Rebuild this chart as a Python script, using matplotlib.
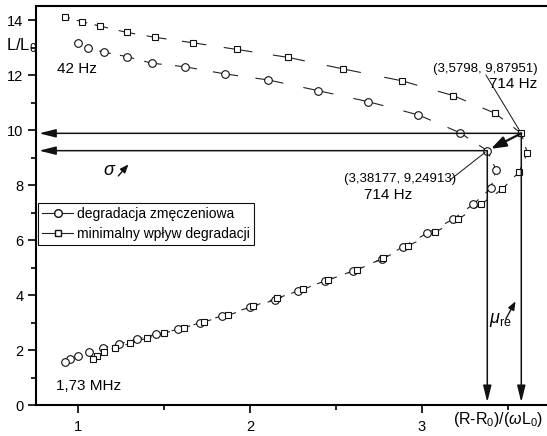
import numpy as np
import matplotlib.pyplot as plt
from matplotlib.lines import Line2D
from matplotlib.collections import LineCollection

plt.rcParams['font.family'] = ['Liberation Sans', 'DejaVu Sans']
plt.rcParams['mathtext.fontset'] = 'custom'
plt.rcParams['mathtext.rm'] = 'Liberation Sans'
plt.rcParams['mathtext.it'] = 'Liberation Sans:italic'

# degradacja zmeczeniowa (circles), 42 Hz -> 714 Hz -> 1.73 MHz
circ_x = [1.000, 1.055, 1.150, 1.282, 1.427, 1.621, 1.854, 2.107, 2.398, 2.689, 2.980, 3.223, 3.38177,
          3.433, 3.402, 3.300, 3.181, 3.029, 2.893, 2.767, 2.602, 2.437, 2.281, 2.146, 2.000,
          1.835, 1.709, 1.582, 1.453, 1.340, 1.239, 1.146, 1.064, 1.000, 0.952, 0.923]
circ_y = [13.15, 12.99, 12.83, 12.67, 12.43, 12.30, 12.04, 11.82, 11.43, 11.03, 10.55, 9.90, 9.24913,
          8.55, 7.88, 7.30, 6.75, 6.24, 5.76, 5.31, 4.88, 4.51, 4.16, 3.82, 3.55,
          3.24, 2.99, 2.75, 2.58, 2.39, 2.23, 2.08, 1.92, 1.79, 1.68, 1.57]

# minimalny wplyw degradacji (squares)
sq_x = [0.922, 1.020, 1.126, 1.282, 1.447, 1.670, 1.923, 2.223, 2.543, 2.884, 3.184, 3.427, 3.5798,
        3.615, 3.568, 3.469, 3.345, 3.213, 3.078, 2.922, 2.776, 2.621, 2.456, 2.310, 2.156,
        2.019, 1.874, 1.732, 1.617, 1.499, 1.398, 1.301, 1.214, 1.150, 1.107, 1.087]
sq_y = [14.12, 13.94, 13.78, 13.55, 13.37, 13.17, 12.93, 12.64, 12.22, 11.79, 11.25, 10.61, 9.87951,
        9.17, 8.48, 7.85, 7.30, 6.76, 6.28, 5.79, 5.33, 4.91, 4.55, 4.21, 3.88,
        3.60, 3.26, 3.03, 2.81, 2.61, 2.43, 2.24, 2.08, 1.94, 1.78, 1.66]

labels = ['degradacja zmęczeniowa', 'minimalny wpływ degradacji']
pt_sq = (3.5798, 9.87951)
pt_circ = (3.38177, 9.24913)

fig = plt.figure(figsize=(5.47, 4.36), dpi=100)
ax = fig.add_axes([36 / 547, 31 / 436, 514 / 547, 399 / 436])
x_lo, x_hi = 0.7536, 3.747
ax.set_xlim(x_lo, x_hi)
ax.set_ylim(0, 14.51)


def gapped(xs, ys, f=0.3):
    # Origin-style line: short pieces next to each symbol, gap in the middle
    p = np.column_stack([xs, ys])
    a, b = p[:-1], p[1:]
    segs = [np.array([a0, a0 + f * (b0 - a0)]) for a0, b0 in zip(a, b)]
    segs += [np.array([b0 - f * (b0 - a0), b0]) for a0, b0 in zip(a, b)]
    ax.add_collection(LineCollection(segs, colors='#222222', linewidths=0.8, zorder=2))


gapped(circ_x, circ_y)
gapped(sq_x, sq_y)
ax.plot(circ_x, circ_y, ls='none', marker='o', ms=5.5, mfc='white', mec='#111111', mew=0.8, zorder=3)
ax.plot(sq_x, sq_y, ls='none', marker='s', ms=4.6, mfc='white', mec='#111111', mew=0.8, zorder=3)


def arrow(tip, tail, lw=1.1, hl=1.0, hw=0.25, sb=0):
    ax.annotate('', xy=tip, xytext=tail,
                arrowprops=dict(arrowstyle=f'-|>,head_length={hl},head_width={hw}',
                                lw=lw, color='#111111', shrinkA=0, shrinkB=sb), zorder=4)


# guide arrows to the axes
for px, py in (pt_sq, pt_circ):
    arrow((x_lo + 0.018, py), (px, py))
    arrow((px, 0.1), (px, py))
arrow(pt_circ, pt_sq, lw=1.6, hl=0.9, hw=0.32, sb=3)

# leader lines
ax.annotate('', xy=pt_sq, xytext=(3.374, 12.0),
            arrowprops=dict(arrowstyle='-', lw=0.7, color='#111111', shrinkA=0, shrinkB=2))
ax.annotate('', xy=pt_circ, xytext=(3.164, 8.18),
            arrowprops=dict(arrowstyle='-', lw=0.7, color='#111111', shrinkA=0, shrinkB=2))

ax.text(3.369, 12.22, '(3,5798, 9,87951)', fontsize=9.5, ha='center', va='center')
ax.text(3.531, 11.67, '714 Hz', fontsize=11, ha='center', va='center')
ax.text(2.873, 8.22, '(3,38177, 9,24913)', fontsize=9.5, ha='center', va='center')
ax.text(2.803, 7.64, '714 Hz', fontsize=11, ha='center', va='center')
ax.text(0.992, 12.22, '42 Hz', fontsize=11, ha='center', va='center')
ax.text(1.062, 0.69, '1,73 MHz', fontsize=11, ha='center', va='center')

ax.text(1.185, 8.52, r'$\sigma$', fontsize=13, ha='center', va='center')
arrow((1.292, 8.75), (1.233, 8.33), lw=1.0, hl=0.5, hw=0.2)
ax.text(3.46, 3.08, r'$\mu_{\mathrm{re}}$', fontsize=13, ha='center', va='center')
arrow((3.546, 3.77), (3.49, 3.13), lw=1.0, hl=0.5, hw=0.2)

# axes styling
ax.spines['right'].set_visible(False)
for s in ('left', 'bottom', 'top'):
    ax.spines[s].set_linewidth(1.5)
ax.set_xticks([1, 2, 3])
ax.set_xticks([1.5, 2.5, 3.5], minor=True)
ax.set_yticks(np.arange(0, 15, 2))
ax.set_yticks(np.arange(1, 15, 2), minor=True)
ax.tick_params(which='major', direction='out', length=6, width=1.2, labelsize=10.5)
ax.tick_params(which='minor', direction='out', length=3.5, width=1.2)
ax.tick_params(axis='x', pad=5)
ax.tick_params(axis='y', pad=3)

fig.text(6 / 547, 1 - 46 / 436, 'L/L$_0$', fontsize=12, ha='left', va='center')
fig.text(453 / 547, 1 - 419 / 436, r'(R-R$_0$)/($\omega$L$_0$)', fontsize=11.5, ha='left', va='center')

handles = [Line2D([], [], color='#222222', lw=0.8, marker='o', ms=5.5, mfc='white', mec='#111111'),
           Line2D([], [], color='#222222', lw=0.8, marker='s', ms=4.6, mfc='white', mec='#111111')]
leg = ax.legend(handles, labels, loc='upper left', bbox_to_anchor=(0.004, 0.506), fontsize=10,
                fancybox=False, edgecolor='#111111', framealpha=1, borderpad=0.3,
                labelspacing=0.4, handlelength=2.2, handletextpad=0.3, borderaxespad=0)
leg.get_frame().set_linewidth(0.8)

fig.savefig('out.png', dpi=100)
